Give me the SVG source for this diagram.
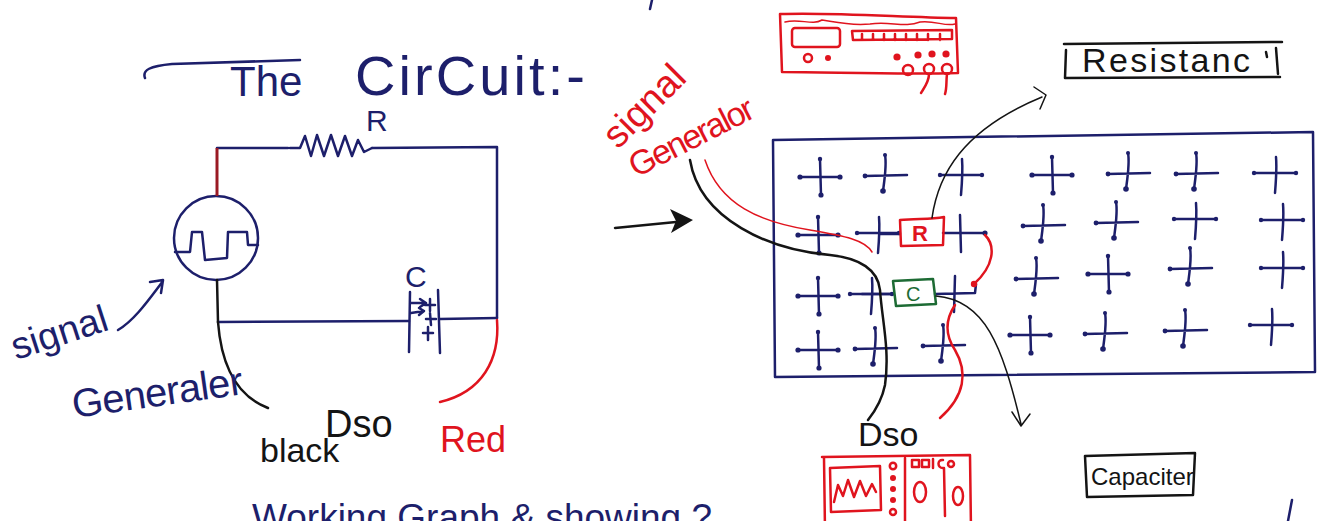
<svg xmlns="http://www.w3.org/2000/svg" width="1318" height="521" viewBox="0 0 1318 521">
  <style>
    .ink { fill: none; stroke: #1d1f6b; stroke-width: 2.5; stroke-linecap: round; stroke-linejoin: round; }
    .blk { fill: none; stroke: #141414; stroke-width: 2.5; stroke-linecap: round; stroke-linejoin: round; }
    .thin { fill: none; stroke: #141414; stroke-width: 1.5; stroke-linecap: round; stroke-linejoin: round; }
    .red { fill: none; stroke: #e0141e; stroke-width: 2.5; stroke-linecap: round; stroke-linejoin: round; }
    .redthin { fill: none; stroke: #e0141e; stroke-width: 1.5; stroke-linecap: round; }
    .grn { fill: none; stroke: #1d6b34; stroke-width: 2.5; stroke-linejoin: round; }
    .t { font-family: "Liberation Sans", "DejaVu Sans", sans-serif; }
    .tn { fill: #1d1f6b; }
    .tb { fill: #141414; }
    .tr { fill: #e0141e; }
    .dot { fill: #1d1f6b; }
  </style>
  <defs>
    <!-- breadboard contact points, three hand-drawn variants -->
    <g id="pinA">
      <path class="ink" d="M-20,0 L20,0 M0,-18 L1,18"/>
      <circle class="dot" cx="-20" cy="0" r="2.6"/>
      <circle class="dot" cx="20" cy="0" r="2.6"/>
      <circle class="dot" cx="1" cy="18" r="2.6"/>
      <circle class="dot" cx="0" cy="-18" r="2.2"/>
    </g>
    <g id="pinB">
      <path class="ink" d="M-20,1 L22,0 M0,-20 C2,-10 -1,8 -2,16"/>
      <circle class="dot" cx="-20" cy="1" r="2.4"/>
      <circle class="dot" cx="-2" cy="16" r="2.8"/>
      <circle class="dot" cx="0" cy="-20" r="2"/>
    </g>
    <g id="pinC">
      <path class="ink" d="M-22,0 L20,0 M0,-16 C1,-4 0,8 -1,20"/>
      <circle class="dot" cx="-22" cy="0" r="2.2"/>
      <circle class="dot" cx="20" cy="0" r="2.2"/>
    </g>
  </defs>

  <rect width="1318" height="521" fill="#ffffff"/>

  <!-- heading -->
  <g id="title">
    <path class="ink" d="M145,78 C142,70 150,66 172,64 L300,60"/>
    <text class="t tn" x="230" y="96" font-size="42">The</text>
    <text class="t tn" x="355" y="95" font-size="56" textLength="230" lengthAdjust="spacing">CirCuit:-</text>
  </g>
  <path class="ink" d="M652,0 L650,9"/>

  <!-- schematic: signal generator source -->
  <g id="source">
    <circle class="ink" cx="216" cy="238" r="42"/>
    <path class="ink" d="M175,252 L190,252 L192,232 L202,232 L205,260 L227,258 L228,232 L247,232 L248,245 L258,245"/>
  </g>

  <!-- schematic: resistor R -->
  <g id="resistor">
    <path class="ink" d="M290,148 L300,148 L305,136 L311,156 L317,135 L324,156 L331,135 L338,156 L345,136 L352,156 L358,140 L364,152 L372,148"/>
    <text class="t tn" x="366" y="131" font-size="30">R</text>
  </g>

  <!-- schematic: capacitor C -->
  <g id="capacitor">
    <path class="ink" d="M410,292 L409,352 M438,290 L440,353"/>
    <path class="ink" stroke-width="1.8" d="M411,303 L426,303 M420,299 L426,303 L420,307 M411,313 L424,311 M419,308 L424,311 L419,315 M430,299 L430,311 M425,305 L435,305 M430,313 L431,325 M426,319 L436,319 M428,327 L428,340 M423,333 L433,333"/>
    <text class="t tn" x="405" y="287" font-size="30">C</text>
  </g>

  <!-- schematic wiring -->
  <g id="schematic-wires">
    <path class="ink" d="M217,148 L288,148"/>
    <path class="ink" d="M372,148 L497,147 L497,318"/>
    <path fill="none" stroke="#9a1a24" stroke-width="3" d="M217,148 L217,196"/>
    <path class="blk" stroke-width="3.5" d="M217,280 L218,322"/>
    <path class="ink" d="M218,322 L409,321 M440,319 L497,318"/>
    <path class="blk" d="M218,322 C221,362 234,395 268,408"/>
    <path class="red" d="M497,320 C500,360 482,392 440,402"/>
    <path class="ink" d="M118,330 C135,320 150,298 163,281 M150,282 L163,280 L161,293"/>
  </g>

  <!-- schematic labels -->
  <g id="schematic-labels">
    <text class="t tn" font-size="38" transform="translate(16,360) rotate(-18)">signal</text>
    <text class="t tn" font-size="40" transform="translate(74,418) rotate(-8)" textLength="172" lengthAdjust="spacing">Generaler</text>
    <text class="t tb" x="325" y="437" font-size="38">Dso</text>
    <text class="t tb" x="260" y="462" font-size="34">black</text>
    <text class="t tr" x="440" y="452" font-size="36">Red</text>
  </g>

  <!-- arrow from schematic to breadboard layout -->
  <g id="arrow-main">
    <path class="blk" stroke-width="5" d="M615,228 L676,222"/>
    <path fill="#141414" d="M670,209 L693,220 L671,233 L676,221 Z"/>
  </g>

  <!-- signal generator sketch -->
  <g id="signal-generator">
    <path class="red" d="M780,14 C830,12 900,17 956,18 L958,73 C900,75 830,72 782,72 Z"/>
    <path class="redthin" d="M785,22 C800,18 812,26 822,20 C835,22 850,26 870,24 C890,21 905,28 920,22 C935,20 945,27 955,24"/>
    <rect class="red" x="792" y="28" width="48" height="19" rx="3"/>
    <path class="red" stroke-width="2" d="M852,31 L952,30 L952,39 L853,40 Z M862,34 L862,39 M873,34 L873,39 M884,34 L884,40 M895,34 L895,40 M906,34 L906,40 M917,34 L917,40 M928,34 L928,40 M940,34 L940,40"/>
    <circle class="red" cx="808" cy="58" r="4"/>
    <circle cx="828" cy="58" r="3" fill="#e0141e"/>
    <circle cx="897" cy="57" r="3.6" fill="#e0141e"/>
    <circle cx="918" cy="55" r="3.6" fill="#e0141e"/>
    <circle cx="932" cy="54" r="3.6" fill="#e0141e"/>
    <circle cx="946" cy="54" r="3.6" fill="#e0141e"/>
    <circle class="red" cx="908" cy="70" r="5"/>
    <circle class="red" cx="929" cy="69" r="5"/>
    <circle class="red" cx="947" cy="69" r="5"/>
    <path class="red" d="M929,74 C929,82 924,88 921,93 M947,74 C946,82 947,88 945,94"/>
  </g>
  <g id="signal-generator-label">
    <text class="t tr" font-size="38" transform="translate(618,150) rotate(-45)">signal</text>
    <text class="t tr" font-size="34" transform="translate(636,178) rotate(-27)" textLength="136" lengthAdjust="spacing">Generalor</text>
  </g>

  <!-- resistance label -->
  <g id="resistance-label">
    <path class="blk" d="M1064,44 L1282,42 M1066,50 L1065,78 L1280,77 M1276,48 L1278,74"/>
    <text class="t tb" x="1082" y="72" font-size="34" textLength="168" lengthAdjust="spacing">Resistanc</text>
    <path class="blk" stroke-width="1.5" d="M1266,52 L1267,57"/>
  </g>

  <!-- breadboard -->
  <g id="breadboard">
    <path class="ink" stroke-width="3" d="M773,140 L1313,132 L1315,372 L775,377 Z"/>
    <use href="#pinA" x="820" y="177"/>
    <use href="#pinB" x="885" y="175"/>
    <use href="#pinC" x="962" y="175"/>
    <use href="#pinA" x="1052" y="175"/>
    <use href="#pinB" x="1128" y="173"/>
    <use href="#pinB" x="1196" y="173"/>
    <use href="#pinC" x="1276" y="173"/>
    <use href="#pinA" x="818" y="235"/>
    <use href="#pinC" x="879" y="233"/>
    <use href="#pinB" x="1043" y="225"/>
    <use href="#pinB" x="1116" y="222"/>
    <use href="#pinC" x="1196" y="219"/>
    <use href="#pinC" x="1283" y="220"/>
    <use href="#pinA" x="818" y="296"/>
    <use href="#pinC" x="872" y="294"/>
    <use href="#pinB" x="1036" y="278"/>
    <use href="#pinA" x="1108" y="274"/>
    <use href="#pinB" x="1190" y="268"/>
    <use href="#pinC" x="1283" y="268"/>
    <use href="#pinA" x="818" y="350"/>
    <use href="#pinB" x="875" y="348"/>
    <use href="#pinB" x="943" y="345"/>
    <use href="#pinA" x="1030" y="335"/>
    <use href="#pinB" x="1105" y="333"/>
    <use href="#pinB" x="1185" y="330"/>
    <use href="#pinC" x="1272" y="325"/>
  </g>

  <!-- components on the board -->
  <g id="board-R">
    <path class="ink" d="M880,234 L900,234 M943,233 L985,233 M960,215 L961,252"/>
    <circle class="dot" cx="985" cy="233" r="2.6"/>
    <path class="red" stroke-width="3" d="M900,220 C915,218 930,220 944,217 L943,245 L901,246 Z"/>
    <text class="t tr" x="912" y="241" font-size="22" font-weight="bold">R</text>
  </g>
  <g id="board-C">
    <path class="ink" d="M862,294 L893,294 M935,294 L975,293 L976,284 M955,276 L954,312"/>
    <path class="grn" d="M893,281 L933,279 L936,304 L896,306 Z"/>
    <text class="t" x="906" y="301" font-size="20" fill="#1d6b34">C</text>
  </g>

  <!-- leads and pointers -->
  <g id="connectors">
    <path class="redthin" d="M705,160 C720,205 760,222 810,230 C845,236 865,240 872,252"/>
    <path class="blk" stroke-width="3.5" d="M690,160 C700,220 770,250 830,255 C860,258 878,270 880,290 C882,320 890,350 885,385 C882,400 876,410 868,420"/>
    <path class="red" stroke-width="3" d="M985,235 C996,246 994,266 974,284"/>
    <circle cx="974" cy="284" r="3.2" fill="#e0141e"/>
    <path class="red" stroke-width="3" d="M955,305 C945,320 945,335 955,350 C968,372 965,396 940,418"/>
    <path class="thin" d="M932,218 C938,175 962,130 1042,97 M1034,87 L1046,95 L1040,109"/>
    <path class="thin" d="M936,296 C985,300 1002,345 1021,424 M1012,412 L1021,426 L1030,414"/>
  </g>

  <!-- oscilloscope sketch -->
  <g id="dso">
    <text class="t tb" x="858" y="446" font-size="34">Dso</text>
    <path class="red" d="M822,457 L970,455 L971,530 M824,458 L825,530"/>
    <path class="red" d="M830,468 L880,466 L881,510 L831,512 Z"/>
    <path class="red" d="M834,502 L838,485 L843,496 L848,480 L854,497 L860,481 L866,496 L872,484 L876,492"/>
    <circle class="red" cx="893" cy="466" r="3.2" stroke-width="2"/>
    <circle cx="893" cy="478" r="3" fill="#e0141e"/>
    <circle cx="893" cy="489" r="3" fill="#e0141e"/>
    <circle cx="893" cy="500" r="3" fill="#e0141e"/>
    <circle class="red" cx="893" cy="512" r="3" stroke-width="2"/>
    <path class="red" d="M905,458 L905,521"/>
    <path class="red" stroke-width="1.8" d="M912,460 L919,460 L919,467 L912,467 Z M922,460 L929,460 L929,467 L922,467 Z M933,459 L933,468 M943,460 C937,459 937,468 943,468"/>
    <circle class="red" cx="951" cy="464" r="3" stroke-width="1.8"/>
    <ellipse class="red" cx="920" cy="492" rx="6" ry="10"/>
    <path class="red" d="M944,468 L945,516"/>
    <ellipse class="red" cx="958" cy="496" rx="5" ry="9"/>
  </g>

  <!-- capacitor label -->
  <g id="capacitor-label">
    <path class="blk" d="M1085,456 L1195,453 L1193,495 L1087,497 Z"/>
    <text class="t tb" x="1091" y="485" font-size="24">Capaciter</text>
  </g>

  <!-- note along the lower edge -->
  <text class="t tn" x="252" y="530" font-size="37">Working Graph &amp; showing ?</text>
  <path class="ink" d="M1292,500 L1288,521"/>
</svg>
